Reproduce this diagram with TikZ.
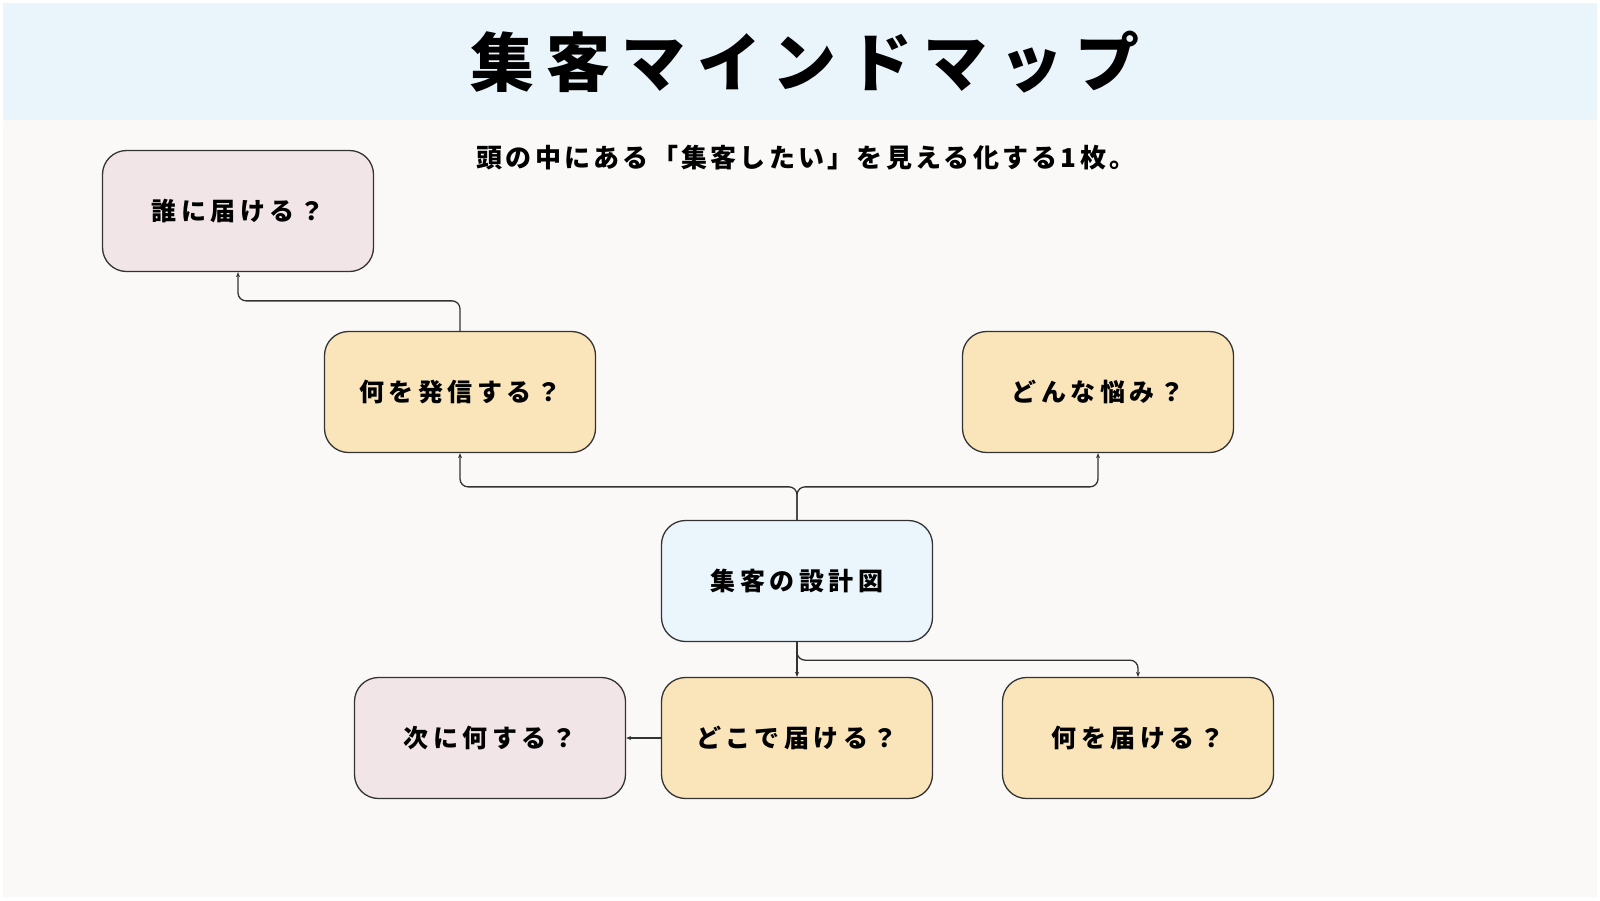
\documentclass[tikz,border=0pt]{standalone}
\usepackage{fontspec}
\setmainfont{Noto Sans CJK JP}
\usetikzlibrary{arrows.meta}
\definecolor{bgc}{HTML}{FAF9F7}
\definecolor{hdr}{HTML}{EAF4FB}
\definecolor{pinkf}{HTML}{F1E5E8}
\definecolor{yelf}{HTML}{F9E5B9}
\definecolor{bluef}{HTML}{EAF5FC}
\definecolor{ln}{HTML}{333333}
\begin{document}
\begin{tikzpicture}[x=1pt,y=-1pt,
  box/.style={draw=ln, line width=1.3pt, rounded corners=24pt, minimum width=271pt, minimum height=121pt, inner sep=0pt,
    font=\fontsize{25}{29}\selectfont\bfseries\addfontfeatures{LetterSpace=18}},
  pinkbox/.style={box, fill=pinkf},
  yelbox/.style={box, fill=yelf},
  bluebox/.style={box, fill=bluef},
  conn/.style={draw=ln, line width=1.3pt, rounded corners=8pt, -{Stealth[length=5pt,width=4pt]}}]
\useasboundingbox (0,0) rectangle (1600,900);
\fill[white] (0,0) rectangle (1600,900);
\fill[bgc] (3,3) rectangle (1597,897);
\fill[hdr] (3,3) rectangle (1597,120);
\node[inner sep=0pt] (title) at (805,62) {\fontsize{64}{70}\selectfont\bfseries\addfontfeatures{LetterSpace=18}集客マインドマップ};
\node[inner sep=0pt] (sub) at (806,158) {\fontsize{26}{30}\selectfont\bfseries\addfontfeatures{LetterSpace=12.5}頭の中にある「集客したい」を見える化する1枚。};
\node[pinkbox] (who) at (238,211) {誰に届ける？};
\node[yelbox] (what) at (460,392) {何を発信する？};
\node[yelbox] (pain) at (1098,392) {どんな悩み？};
\node[bluebox] (core) at (797,581) {集客の設計図};
\node[pinkbox] (next) at (490,738) {次に何する？};
\node[yelbox] (where) at (797,738) {どこで届ける？};
\node[yelbox] (give) at (1138,738) {何を届ける？};
\draw[conn] (what.north) -- ++(0,-30) -| (who.south);
\draw[conn] (core.north) -- ++(0,-33) -| (what.south);
\draw[conn] (core.north) -- ++(0,-33) -| (pain.south);
\draw[conn] (core.south) -- (where.north);
\draw[conn] (core.south) -- ++(0,18) -| (give.north);
\draw[conn] (where.west) -- (next.east);
\end{tikzpicture}
\end{document}
